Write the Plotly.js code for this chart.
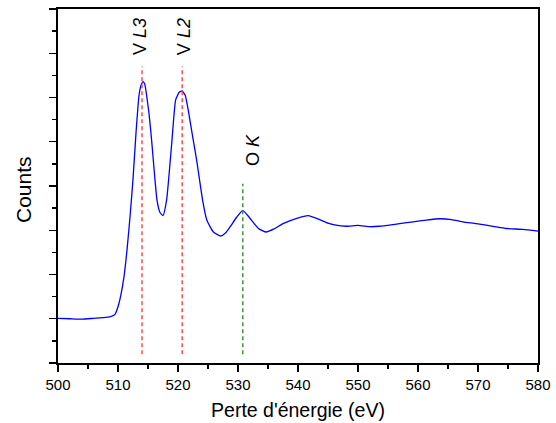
<!DOCTYPE html>
<html>
<head>
<meta charset="utf-8">
<script src="https://cdn.plot.ly/plotly-3.0.1.min.js"></script>
<style>html,body{margin:0;padding:0;background:#fff}#chart{width:556px;height:423px}</style>
</head>
<body>
<div id="chart"></div>
<script>
// Spectrum (energy loss in eV, counts in arbitrary units)
const energy = [500, 502, 504, 506, 508, 509, 509.5, 510, 510.5, 511, 511.5, 512, 512.5, 513, 513.5, 513.9, 514.2, 514.5, 514.8, 515.2, 515.6, 516.0, 516.5, 517.0, 517.5, 518.1, 518.6, 519.0, 519.6, 520.2, 520.7, 521.2, 521.7, 522.4, 523.1, 524.1, 524.8, 525.9, 527.1, 528.0, 528.7, 529.8, 530.8, 532.0, 533.4, 534.7, 536.0, 537.5, 539.8, 541.7, 543.6, 545.0, 546.1, 548.1, 550.0, 552.0, 553.6, 556.4, 559.2, 561.4, 563.6, 565.6, 567.5, 569.7, 572.5, 574.7, 577.5, 580];
const counts = [1.01, 1.0, 0.99, 1.01, 1.03, 1.06, 1.1, 1.27, 1.55, 1.95, 2.55, 3.3, 4.15, 5.2, 6.05, 6.3, 6.36, 6.28, 6.02, 5.6, 5.04, 4.4, 3.68, 3.4, 3.33, 3.68, 4.4, 5.04, 5.94, 6.12, 6.15, 6.05, 5.72, 5.15, 4.59, 3.68, 3.23, 2.96, 2.87, 2.95, 3.08, 3.30, 3.45, 3.27, 3.04, 2.96, 3.03, 3.15, 3.27, 3.33, 3.24, 3.16, 3.12, 3.09, 3.11, 3.08, 3.09, 3.14, 3.19, 3.23, 3.26, 3.24, 3.19, 3.15, 3.09, 3.04, 3.02, 2.98];

// Edge markers
const edgeNames = ['V <i>L3</i>', 'V <i>L2</i>', 'O <i>K</i>'];
const edgeEnergy = [514.0, 520.7, 530.8];
const edgeTop = [6.7, 6.7, 4.05];
const edgeBottom = [0.2, 0.2, 0.2];
const edgeColors = ['#ff4d4d', '#ff4d4d', '#3a9a3a'];
const labelEnergy = [513.7, 520.9, 532.6];
const labelY = [6.91, 6.91, 4.4];

const xTicks = [500, 510, 520, 530, 540, 550, 560, 570, 580];

const font = "'Liberation Sans', Arial, sans-serif";

const traces = [{
  x: energy, y: counts, type: 'scatter', mode: 'lines',
  line: {color: '#0000ff', width: 1.3, shape: 'spline', smoothing: 0.45},
  hoverinfo: 'skip', showlegend: false
}];
edgeEnergy.forEach((e, i) => {
  traces.push({
    x: [e, e], y: [edgeBottom[i], edgeTop[i]], type: 'scatter', mode: 'lines',
    line: {color: edgeColors[i], width: 1.5, dash: '4px,3px'},
    hoverinfo: 'skip', showlegend: false
  });
});

const annotations = edgeNames.map((t, i) => ({
  text: t, x: labelEnergy[i], y: labelY[i], xref: 'x', yref: 'y',
  textangle: -90, showarrow: false, xanchor: 'center', yanchor: 'bottom',
  font: {family: font, size: 18, color: '#000'}
}));
annotations.push({
  text: 'Counts', xref: 'paper', yref: 'paper', x: -0.072, y: 0.49,
  textangle: -90, showarrow: false, xanchor: 'center', yanchor: 'middle',
  font: {family: font, size: 21, color: '#000'}
});

const layout = {
  width: 556, height: 423,
  margin: {l: 58, r: 18, t: 9, b: 60, pad: 0},
  paper_bgcolor: '#fff', plot_bgcolor: '#fff',
  showlegend: false,
  xaxis: {
    range: [500, 580], tickvals: xTicks, ticktext: xTicks.map(String),
    ticks: 'outside', ticklen: 7, tickwidth: 1.3, tickcolor: '#000',
    minor: {dtick: 5, ticks: 'outside', ticklen: 4, tickwidth: 1.3, tickcolor: '#000'},
    showline: true, linecolor: '#000', linewidth: 1.8, mirror: true,
    showgrid: false, zeroline: false,
    tickfont: {family: font, size: 15, color: '#000'},
    title: {text: "Perte d'énergie (eV)", font: {family: font, size: 19.5, color: '#000'}, standoff: 11}
  },
  yaxis: {
    range: [0, 8], dtick: 1, showticklabels: false,
    ticks: 'outside', ticklen: 7, tickwidth: 1.3, tickcolor: '#000',
    minor: {dtick: 0.5, ticks: 'outside', ticklen: 4, tickwidth: 1.3, tickcolor: '#000'},
    showline: true, linecolor: '#000', linewidth: 1.8, mirror: true,
    showgrid: false, zeroline: false
  },
  annotations: annotations
};

Plotly.newPlot('chart', traces, layout, {staticPlot: true, displayModeBar: false});
</script>
</body>
</html>
